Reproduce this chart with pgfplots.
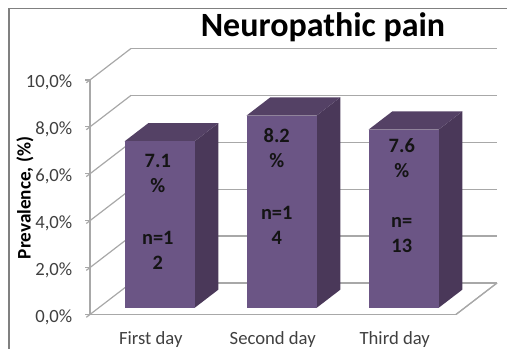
\documentclass[border=0pt]{standalone}
\usepackage{pgfplots}
\usepackage{fontspec}
\setmainfont{Carlito}
\pgfplotsset{compat=1.18}
\definecolor{barfront}{HTML}{6B5585}
\definecolor{bartop}{HTML}{544165}
\definecolor{barside}{HTML}{4A3859}
\definecolor{gridgray}{HTML}{A8A8A8}
\definecolor{framegray}{HTML}{808080}
\definecolor{ticktext}{HTML}{404040}
\definecolor{valtext}{HTML}{141414}
\newcommand{\fs}[1]{\fontsize{#1}{#1}\selectfont}
\begin{document}
\begin{tikzpicture}[x=0.75pt,y=0.75pt]
\path[use as bounding box] (0,0) rectangle (507,349);
\draw[framegray,line width=0.9pt] (9,0) -- (9,340.5) -- (507,340.5);
\begin{axis}[
  at={(67.5pt,25.9pt)}, anchor=origin,
  x={(91.5pt,0pt)}, y={(30.75pt,23.6pt)}, z={(0pt,17.59pt)},
  xmin=0, xmax=3, ymin=0, ymax=1, zmin=0, zmax=10,
  clip=false,
  axis lines*=left,
  axis line style={gridgray,line width=0.9pt},
  xtick={0.5,1.5,2.5}, xticklabels={First day,Second day,Third day},
  ytick=\empty,
  ztick={0,2,4,6,8,10},
  zticklabels={{0,0\%},{2,0\%},{4,0\%},{6,0\%},{8,0\%},{10,0\%}},
  tick align=outside,
  major tick length=3.5pt,
  x tick style={draw=none},
  z tick style={gridgray,line width=0.9pt},
  ticklabel style={font=\fs{14},text=ticktext},
  x tick label style={anchor=north,inner sep=0pt,xshift=2.6pt,yshift=-10.8pt},
  z tick label style={anchor=east,xshift=-7pt,yshift=0pt},
  z grid style={gridgray,line width=0.9pt},
  zmajorgrids=true,
]
% floor outline on the right-hand side
\addplot3[gridgray,line width=0.9pt] coordinates {(3,0,0) (3,1,0)};
\addplot3[gridgray,line width=1.4pt] coordinates {(0,0,0) (3,0,0)};
% first day, 7.1 %
\addplot3[fill=barside,draw=none] coordinates {(0.787,0.21,0) (0.787,0.79,0) (0.787,0.79,7.1) (0.787,0.21,7.1)};
\addplot3[fill=bartop,draw=none] coordinates {(0.213,0.21,7.1) (0.787,0.21,7.1) (0.787,0.79,7.1) (0.213,0.79,7.1)};
\addplot3[fill=barfront,draw=none] coordinates {(0.213,0.21,0) (0.787,0.21,0) (0.787,0.21,7.1) (0.213,0.21,7.1)};
% second day, 8.2 %
\addplot3[fill=barside,draw=none] coordinates {(1.787,0.21,0) (1.787,0.79,0) (1.787,0.79,8.2) (1.787,0.21,8.2)};
\addplot3[fill=bartop,draw=none] coordinates {(1.213,0.21,8.2) (1.787,0.21,8.2) (1.787,0.79,8.2) (1.213,0.79,8.2)};
\addplot3[fill=barfront,draw=none] coordinates {(1.213,0.21,0) (1.787,0.21,0) (1.787,0.21,8.2) (1.213,0.21,8.2)};
% third day, 7.6 %
\addplot3[fill=barside,draw=none] coordinates {(2.787,0.21,0) (2.787,0.79,0) (2.787,0.79,7.6) (2.787,0.21,7.6)};
\addplot3[fill=bartop,draw=none] coordinates {(2.213,0.21,7.6) (2.787,0.21,7.6) (2.787,0.79,7.6) (2.213,0.79,7.6)};
\addplot3[fill=barfront,draw=none] coordinates {(2.213,0.21,0) (2.787,0.21,0) (2.787,0.21,7.6) (2.213,0.21,7.6)};
% value and count labels on the front faces
\tikzset{val/.style={font=\fs{15.3}\bfseries,text=valtext,align=center,inner sep=0pt}}
\node[val] at (axis cs:0.485,0.21,5.75) {7.1\\[3.5pt]\%};
\node[val] at (axis cs:0.485,0.21,2.47) {n=1\\[3.5pt]2};
\node[val] at (axis cs:1.46,0.21,6.8) {8.2\\[3.5pt]\%};
\node[val] at (axis cs:1.46,0.21,3.5) {n=1\\[3.5pt]4};
\node[val] at (axis cs:2.485,0.21,6.4) {7.6\\[3.5pt]\%};
\node[val] at (axis cs:2.485,0.21,3.1) {n=\\[3.5pt]13};
\end{axis}
\node[font=\fs{25.5}\bfseries,text=black,inner sep=0pt] at (323,322) {Neuropathic pain};
\node[font=\fs{14.4}\bfseries,text=black,rotate=90,inner sep=0pt] at (25,151) {Prevalence, (\%)};
\end{tikzpicture}
\end{document}
